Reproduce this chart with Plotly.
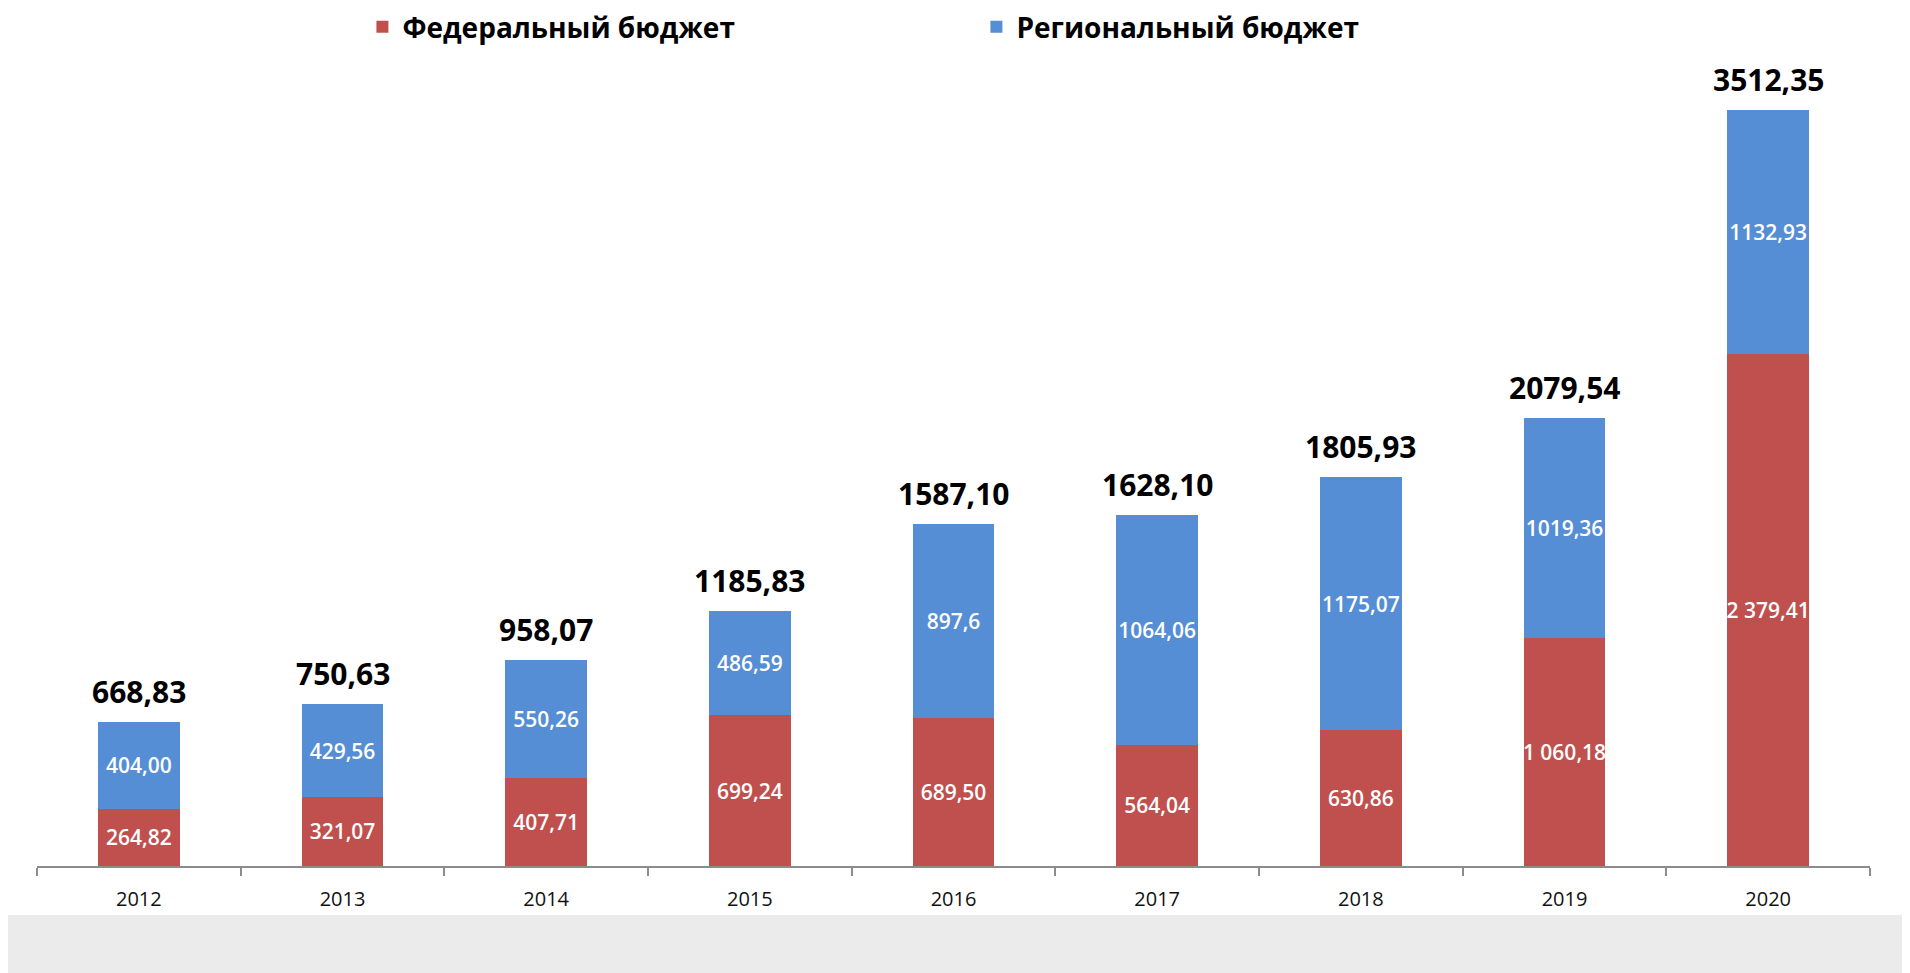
import plotly.graph_objects as go

years = ["2012", "2013", "2014", "2015", "2016", "2017", "2018", "2019", "2020"]
federal = [264.82, 321.07, 407.71, 699.24, 689.50, 564.04, 630.86, 1060.18, 2379.41]
regional = [404.00, 429.56, 550.26, 486.59, 897.6, 1064.06, 1175.07, 1019.36, 1132.93]
federal_labels = ["264,82", "321,07", "407,71", "699,24", "689,50", "564,04", "630,86", "1 060,18", "2 379,41"]
regional_labels = ["404,00", "429,56", "550,26", "486,59", "897,6", "1064,06", "1175,07", "1019,36", "1132,93"]
totals = [668.83, 750.63, 958.07, 1185.83, 1587.10, 1628.10, 1805.93, 2079.54, 3512.35]
total_labels = ["668,83", "750,63", "958,07", "1185,83", "1587,10", "1628,10", "1805,93", "2079,54", "3512,35"]

RED = "#C0504D"
BLUE = "#558ED5"
FONT = "Open Sans, Liberation Sans, DejaVu Sans, sans-serif"

# the page body adds an 8px margin; figure is sized to fill the rest of the window
W, H = 1902, 965
ML, MR, MT, MB = 28.5, 40, 2, 107
PH = H - MT - MB  # plot height in px
PW = W - ML - MR
BASE = H - MB     # baseline pixel in figure coords

fig = go.Figure()
fig.add_trace(go.Bar(
    x=years, y=federal, name="Федеральный бюджет", marker=dict(color=RED, line=dict(width=0)),
    text=federal_labels, textposition="inside", insidetextanchor="middle", textangle=0,
    constraintext="none", textfont=dict(color="white", size=21, family=FONT, weight=600),
    hoverinfo="x+y",
))
fig.add_trace(go.Bar(
    x=years, y=regional, name="Региональный бюджет", marker=dict(color=BLUE, line=dict(width=0)),
    text=regional_labels, textposition="inside", insidetextanchor="middle", textangle=0,
    constraintext="none", textfont=dict(color="white", size=21, family=FONT, weight=600),
    hoverinfo="x+y",
))

# total labels above each stacked bar (x = category index on the category axis)
annotations = []
for i, (tot, lab) in enumerate(zip(totals, total_labels)):
    annotations.append(dict(
        x=i, y=tot, xref="x", yref="y", text=lab, showarrow=False,
        yanchor="bottom", yshift=8,
        font=dict(color="black", size=30, family=FONT, weight="bold"),
    ))

fig.update_layout(
    barmode="stack",
    bargap=0.6,
    width=W, height=H,
    margin=dict(l=ML, r=MR, t=MT, b=MB, autoexpand=False),
    paper_bgcolor="white",
    plot_bgcolor="white",
    font=dict(family=FONT, color="#222"),
    showlegend=True,
    legend=dict(
        orientation="h", traceorder="normal", x=(354 - ML) / PW, xanchor="left",
        y=1 - (19 - MT) / PH, yanchor="middle",
        font=dict(size=28, family=FONT, color="black", weight="bold"),
        entrywidth=569, entrywidthmode="pixels",
        bgcolor="rgba(0,0,0,0)", itemclick=False,
    ),
    annotations=annotations,
    xaxis=dict(
        type="category", categoryorder="array", categoryarray=years,
        range=[-0.5, len(years) - 0.5], autorange=False,
        showgrid=False, showline=True, linecolor="#8c8c8c", linewidth=2,
        ticks="outside", tickson="boundaries", ticklen=8, tickcolor="#8c8c8c", tickwidth=1.5,
        ticklabelstandoff=14,
        tickfont=dict(size=20, color="#111", family=FONT), fixedrange=True,
    ),
    yaxis=dict(
        range=[0, (BASE - MT) / 0.21536], visible=False, showgrid=False, zeroline=False, fixedrange=True,
    ),
    shapes=[
        dict(type="rect", xref="paper", yref="paper", x0=-0.05, x1=1.05,
             y0=-(H - BASE) / PH - 0.01, y1=-(907 - BASE) / PH,
             fillcolor="#EBEBEB", line=dict(width=0), layer="below"),
    ],
)

fig.write_html("out.html")
